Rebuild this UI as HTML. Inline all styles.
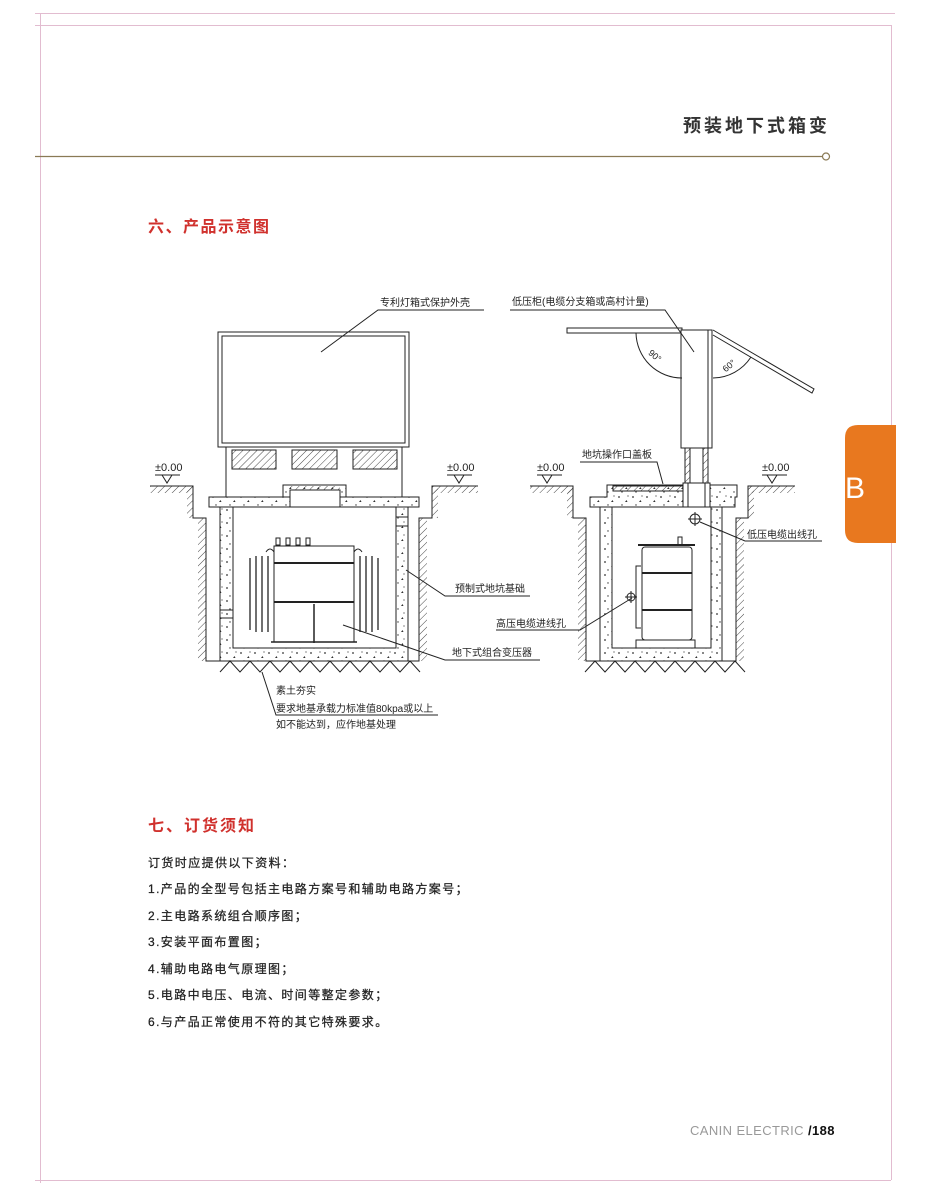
<!DOCTYPE html>
<html><head><meta charset="utf-8"><style>
html,body{margin:0;padding:0;background:#fff}
svg{display:block}
text{font-family:"Liberation Sans","Noto Sans CJK SC",sans-serif}
</style></head><body>
<svg width="932" height="1196" viewBox="0 0 932 1196" xmlns="http://www.w3.org/2000/svg">
<defs>
<pattern id="h" width="5" height="5" patternUnits="userSpaceOnUse" patternTransform="rotate(45)"><line x1="0" y1="0" x2="0" y2="5" stroke="#333" stroke-width="0.9"/></pattern>
<pattern id="c" width="14" height="13" patternUnits="userSpaceOnUse"><circle cx="3" cy="3" r="0.9" fill="#333"/><path d="M9 8 l1.5 -2 l1 2z" fill="#333"/><circle cx="6" cy="11" r="0.7" fill="#333"/><circle cx="12" cy="2" r="0.6" fill="#333"/></pattern>
</defs>
<g stroke="#e2bcd0" stroke-width="1">
<line x1="35" y1="13.5" x2="895" y2="13.5"/>
<line x1="35" y1="25.5" x2="891" y2="25.5"/>
<line x1="40.5" y1="13" x2="40.5" y2="1183"/>
<line x1="891.5" y1="25" x2="891.5" y2="1180"/>
<line x1="35" y1="1180.5" x2="891" y2="1180.5"/>
</g>
<text x="830" y="132" text-anchor="end" font-size="18" font-weight="bold" fill="#333" letter-spacing="3">预装地下式箱变</text>
<line x1="35" y1="156.5" x2="822" y2="156.5" stroke="#8a7a55" stroke-width="1.3"/>
<circle cx="826" cy="156.5" r="3.5" fill="#fff" stroke="#8a7a55" stroke-width="1.2"/>
<path d="M858 425 H896 V543 H858 Q845 543 845 530 V438 Q845 425 858 425Z" fill="#e8781f"/>
<text x="845" y="498" font-size="30" fill="#fff">B</text>
<text x="148" y="232" font-size="16" font-weight="bold" fill="#d0312d" letter-spacing="1.5">六、产品示意图</text>
<text x="148" y="831" font-size="16" font-weight="bold" fill="#d0312d" letter-spacing="2">七、订货须知</text>
<g font-size="12" fill="#222" letter-spacing="1.4" stroke="#222" stroke-width="0.25">
<text x="148" y="867">订货时应提供以下资料：</text>
<text x="148" y="893">1.产品的全型号包括主电路方案号和辅助电路方案号；</text>
<text x="148" y="920">2.主电路系统组合顺序图；</text>
<text x="148" y="946">3.安装平面布置图；</text>
<text x="148" y="973">4.辅助电路电气原理图；</text>
<text x="148" y="999">5.电路中电压、电流、时间等整定参数；</text>
<text x="148" y="1026">6.与产品正常使用不符的其它特殊要求。</text>
</g>
<text x="690" y="1135" font-size="13" fill="#999" letter-spacing="0.4">CANIN ELECTRIC <tspan fill="#111" font-weight="bold">/188</tspan></text>

<g stroke="#222" stroke-width="1" fill="none">
<rect x="218" y="332" width="191" height="115" fill="#fff"/>
<rect x="222" y="336" width="183" height="107"/>
<rect x="226" y="447" width="176" height="50"/>
<g fill="url(#h)" stroke="#222"><rect x="232" y="450" width="44" height="19"/><rect x="292" y="450" width="45" height="19"/><rect x="353" y="450" width="44" height="19"/></g>
<rect x="150" y="486" width="43" height="7" fill="url(#h)" stroke="none"/>
<rect x="432" y="486" width="46" height="7" fill="url(#h)" stroke="none"/>
<rect x="187" y="486" width="6" height="32" fill="url(#h)" stroke="none"/>
<rect x="432" y="486" width="6" height="32" fill="url(#h)" stroke="none"/>
<rect x="198" y="518" width="8" height="143" fill="url(#h)" stroke="none"/>
<rect x="419" y="518" width="8" height="143" fill="url(#h)" stroke="none"/>
<path d="M150 486 H193 V518 H206 V661 H419 V518 H432 V486 H478"/>
<path d="M209 497 H283 V485 H346 V497 H419 V507 H209Z" fill="url(#c)"/>
<rect x="290" y="486" width="50" height="4" fill="url(#h)" stroke="none"/>
<rect x="290" y="490" width="50" height="17" fill="#fff"/>
<rect x="220" y="507" width="188" height="154" fill="url(#c)"/>
<rect x="233" y="507" width="163" height="141" fill="#fff"/>
<line x1="220" y1="610" x2="233" y2="610"/><line x1="220" y1="618" x2="233" y2="618"/>
<line x1="396" y1="517" x2="408" y2="517"/><line x1="396" y1="526" x2="408" y2="526"/>
<rect x="274" y="546" width="80" height="96" fill="#fff"/>
<line x1="274" y1="563" x2="354" y2="563" stroke-width="2"/>
<line x1="274" y1="602" x2="354" y2="602" stroke-width="2"/>
<line x1="314" y1="604" x2="314" y2="643" stroke-width="1.5"/>
<line x1="271" y1="642" x2="357" y2="642" stroke-width="1.5"/>
<g stroke-width="1.3"><line x1="250" y1="558" x2="250" y2="630"/><line x1="256" y1="556" x2="256" y2="632"/><line x1="262" y1="556" x2="262" y2="632"/><line x1="268" y1="556" x2="268" y2="632"/>
<line x1="360" y1="556" x2="360" y2="632"/><line x1="366" y1="556" x2="366" y2="632"/><line x1="372" y1="556" x2="372" y2="632"/><line x1="378" y1="558" x2="378" y2="630"/></g>
<g stroke-width="1"><rect x="276" y="538" width="4" height="7"/><rect x="286" y="538" width="4" height="7"/><rect x="296" y="538" width="4" height="7"/><rect x="306" y="538" width="4" height="7"/></g>
<path d="M266 552 q4 -6 8 0 M354 552 q4 -6 8 0"/>
<path d="M220 672 l10 -11 l10 11 l10 -11 l10 11 l10 -11 l10 11 l10 -11 l10 11 l10 -11 l10 11 l10 -11 l10 11 l10 -11 l10 11 l10 -11 l10 11 l10 -11 l10 11 l10 -11 l10 11"/>
<path d="M321 352 L378 310 H484"/>
<path d="M406 570 L445 596 H530"/>
<path d="M343 625 L445 660 H540"/>
<path d="M262 672 L276 715 H438"/>
</g>
<g font-size="10" fill="#222">
<text x="380" y="306">专利灯箱式保护外壳</text>
<text x="455" y="592">预制式地坑基础</text>
<text x="452" y="656">地下式组合变压器</text>
<text x="276" y="694">素土夯实</text>
<text x="276" y="712">要求地基承载力标准值80kpa或以上</text>
<text x="276" y="728">如不能达到，应作地基处理</text>
<text x="155" y="471" font-size="11">±0.00</text>
<text x="447" y="471" font-size="11">±0.00</text>
<text x="537" y="471" font-size="11">±0.00</text>
<text x="762" y="471" font-size="11">±0.00</text>
</g>
<g stroke="#222" fill="none" stroke-width="1">
<path d="M155 475 H180 M162 475 l5 8 l5 -8"/>
<path d="M447 475 H472 M454 475 l5 8 l5 -8"/>
<path d="M537 475 H562 M542 475 l5 8 l5 -8"/>
<path d="M762 475 H787 M767 475 l5 8 l5 -8"/>
</g>

<g stroke="#222" stroke-width="1" fill="none">
<rect x="567" y="328" width="115" height="5" fill="#fff"/>
<rect x="681" y="330" width="31" height="118" fill="#fff"/>
<line x1="708" y1="330" x2="708" y2="448"/>
<path d="M713 330 L814 389 L812 393 L713 335"/>
<path d="M636 333 A46 46 0 0 0 682 378"/>
<path d="M713 378 A46 46 0 0 0 751 357"/>
<rect x="685" y="448" width="5" height="35" fill="url(#h)"/>
<rect x="703" y="448" width="5" height="35" fill="url(#h)"/>
<rect x="530" y="486" width="43" height="7" fill="url(#h)" stroke="none"/>
<rect x="748" y="486" width="47" height="7" fill="url(#h)" stroke="none"/>
<rect x="567" y="486" width="6" height="32" fill="url(#h)" stroke="none"/>
<rect x="748" y="486" width="6" height="32" fill="url(#h)" stroke="none"/>
<rect x="578" y="518" width="8" height="143" fill="url(#h)" stroke="none"/>
<rect x="736" y="518" width="8" height="143" fill="url(#h)" stroke="none"/>
<path d="M530 486 H573 V518 H586 V661 H736 V518 H748 V486 H795"/>
<path d="M590 497 H607 V485 H737 V497 H735 V507 H590Z" fill="url(#c)"/>
<rect x="613" y="486" width="70" height="5" fill="url(#h)"/>
<rect x="683" y="483" width="27" height="24" fill="#fff"/>
<line x1="688" y1="483" x2="688" y2="507"/><line x1="705" y1="483" x2="705" y2="507"/>
<rect x="600" y="507" width="122" height="154" fill="url(#c)"/>
<rect x="612" y="507" width="99" height="141" fill="#fff"/>
<line x1="711" y1="507" x2="711" y2="648"/>
<rect x="642" y="547" width="50" height="93" rx="3" fill="#fff"/>
<line x1="638" y1="545" x2="695" y2="545" stroke-width="2"/>
<line x1="642" y1="573" x2="692" y2="573" stroke-width="2"/>
<line x1="642" y1="610" x2="692" y2="610" stroke-width="2"/>
<rect x="636" y="640" width="59" height="8" fill="#fff"/>
<rect x="678" y="537" width="4" height="8"/>
<path d="M641 566 H636 V628 H641"/>
<circle cx="631" cy="597" r="4"/><line x1="625" y1="597" x2="637" y2="597"/><line x1="631" y1="591" x2="631" y2="603"/>
<circle cx="695" cy="519" r="5"/><line x1="688" y1="519" x2="702" y2="519"/><line x1="695" y1="512" x2="695" y2="526"/>
<path d="M585 672 l10 -11 l10 11 l10 -11 l10 11 l10 -11 l10 11 l10 -11 l10 11 l10 -11 l10 11 l10 -11 l10 11 l10 -11 l10 11 l10 -11 l10 11"/>
<path d="M694 352 L665 310 H510"/>
<path d="M663 484 L657 462 H580"/>
<path d="M700 522 L745 541 H822"/>
<path d="M632 598 L580 630 H496"/>
</g>
<g font-size="10" fill="#222">
<text x="512" y="305">低压柜(电缆分支箱或高村计量)</text>
<text x="582" y="458">地坑操作口盖板</text>
<text x="747" y="538">低压电缆出线孔</text>
<text x="496" y="627">高压电缆进线孔</text>
<text x="648" y="359" font-size="9" transform="rotate(40 655 356)">90°</text>
<text x="722" y="368" font-size="9" transform="rotate(-40 730 365)">60°</text>
</g>
</svg>
</body></html>
